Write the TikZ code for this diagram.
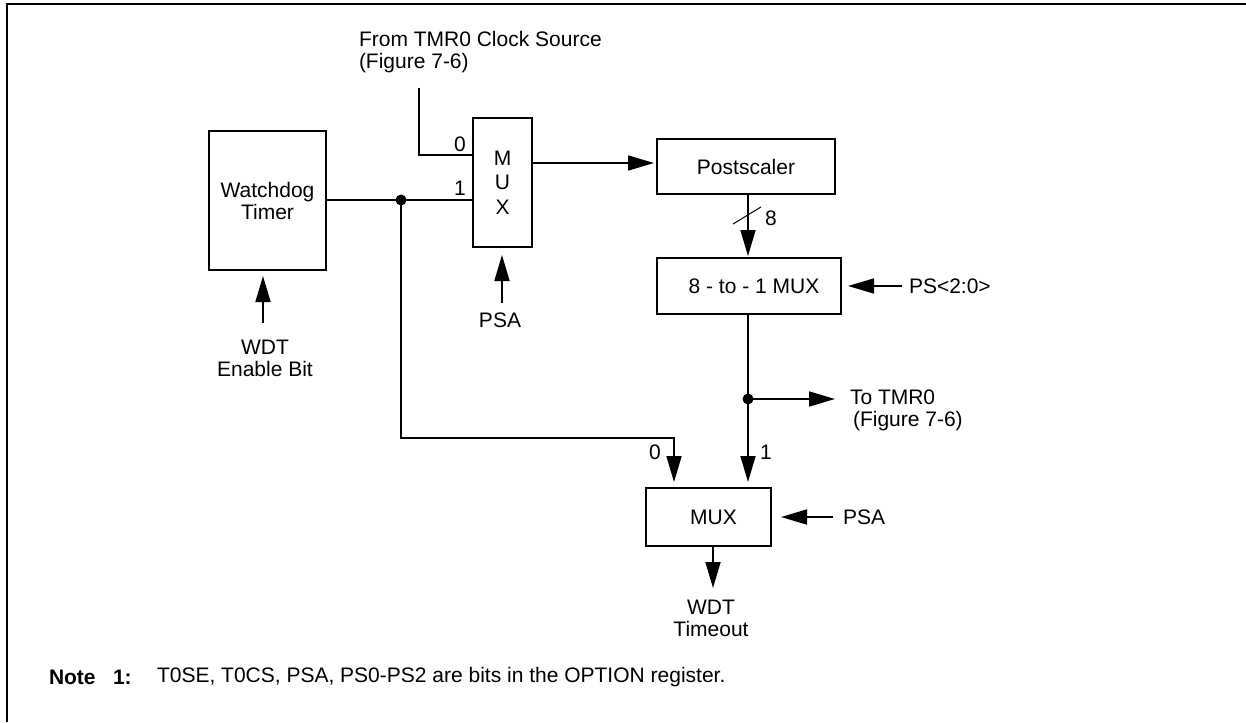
\documentclass[tikz,border=0pt]{standalone}
\usepackage{fontspec}
\setmainfont{Liberation Sans}
\usetikzlibrary{arrows.meta}
\begin{document}
\begin{tikzpicture}[x=1pt,y=-1pt,
  every node/.style={font=\fontsize{21}{22}\selectfont, inner sep=0pt, outer sep=0pt},
  blk/.style={draw, line width=2pt, align=center},
  wire/.style={line width=1.7pt},
  arr/.style={wire, -{Triangle[length=26pt,width=15pt]}},
  jdot/.style={circle, fill, minimum size=11pt, inner sep=0pt},
  frame/.style={line width=2.5pt}
]
\useasboundingbox (0,0) rectangle (1246,722);
% frame (top and left edges)
\coordinate (fa) at (1246,4);
\coordinate (fb) at (7,4);
\coordinate (fc) at (7,722);
\draw[frame] (fa) -- (fb) -- (fc);

% blocks
\node[blk, minimum width=117pt, minimum height=139pt] (wdt) at (267.5,200.5) {Watchdog\\Timer};
\node[blk, minimum width=59pt, minimum height=129pt, font=\fontsize{21}{24.5}\selectfont] (mux1) at (502.5,182.5) {M\\U\\X};
\node[blk, minimum width=178pt, minimum height=55pt] (post) at (746,166.5) {Postscaler};
\node[blk, minimum width=184pt, minimum height=56pt] (m8) at (749,286) {\hspace*{10pt}8 - to - 1 MUX};
\node[blk, minimum width=125pt, minimum height=58pt] (mux2) at (708.5,517) {\hspace*{10pt}MUX};

% texts
\node[anchor=west, align=left] (src) at (359,52) {From TMR0 Clock Source\\(Figure 7-6)};
\node[align=center] (en) at (265,358) {WDT\\Enable Bit};
\node (psa1) at (500,320) {PSA};
\node (eight) at (771,218) {8};
\node[anchor=west] (ps) at (909,286) {PS<2:0>};
\node[anchor=west] (tmr1) at (850,397) {To TMR0};
\node[anchor=west] (tmr2) at (853,421) {(Figure 7-6)};
\node (l0a) at (460,144) {0};
\node (l1a) at (460,188) {1};
\node (l0b) at (655,452) {0};
\node (l1b) at (766,452) {1};
\node[anchor=west] (psa2) at (843,517) {PSA};
\node[align=center] (wto) at (711,618) {WDT\\Timeout};
\node[anchor=west] (n1) at (49,677) {\textbf{Note}};
\node[anchor=west] (n2) at (113,677) {\textbf{1:}};
\node[anchor=west] (n3) at (157,677) {T0SE, T0CS, PSA, PS0-PS2 are bits in the OPTION register.};

% junctions and bends
\coordinate (d1) at (401,200);
\coordinate (d2) at (748,399);
\coordinate (clk) at (419,88);
\coordinate (in0) at (419,155);
\coordinate (m1o) at (532,163);
\coordinate (k2) at (674,438);
\coordinate (ent) at (263,323);
\coordinate (psat) at (502,303);
\coordinate (wo) at (713,546);
\coordinate (wtip) at (713,588);
\coordinate (sa) at (733,224);
\coordinate (sb) at (761,207);

% connectors
\draw[wire] (clk) -- (in0) -- (mux1.west |- in0);
\draw[wire] (wdt.east |- d1) -- (mux1.west |- d1);
\node[jdot] (j1) at (d1) {};
\draw[arr, shorten >=3pt] (m1o) -- (post.west |- m1o);
\draw[arr, shorten >=2pt] (post.south -| d2) -- (m8.north -| d2);
\draw[line width=1pt] (sa) -- (sb);
\draw[arr, shorten >=7pt] ([xshift=-7pt]ps.west) -- (m8.east);
\draw[arr, shorten >=6pt] (m8.south -| d2) -- (d2) -- (mux2.north -| d2);
\node[jdot] (j2) at (d2) {};
\draw[arr] (d2) -- ([xshift=-15pt]tmr1.west |- d2);
\draw[arr, shorten >=6pt] (d1) |- (k2) -- (mux2.north -| k2);
\draw[arr, shorten >=10pt] ([xshift=-10pt]psa2.west) -- (mux2.east);
\draw[arr] (wo) -- (wtip);
\draw[arr, shorten >=8pt] (psat) -- (mux1.south -| psat);
\draw[arr, shorten >=6pt] (ent) -- (wdt.south -| ent);
\end{tikzpicture}
\end{document}
